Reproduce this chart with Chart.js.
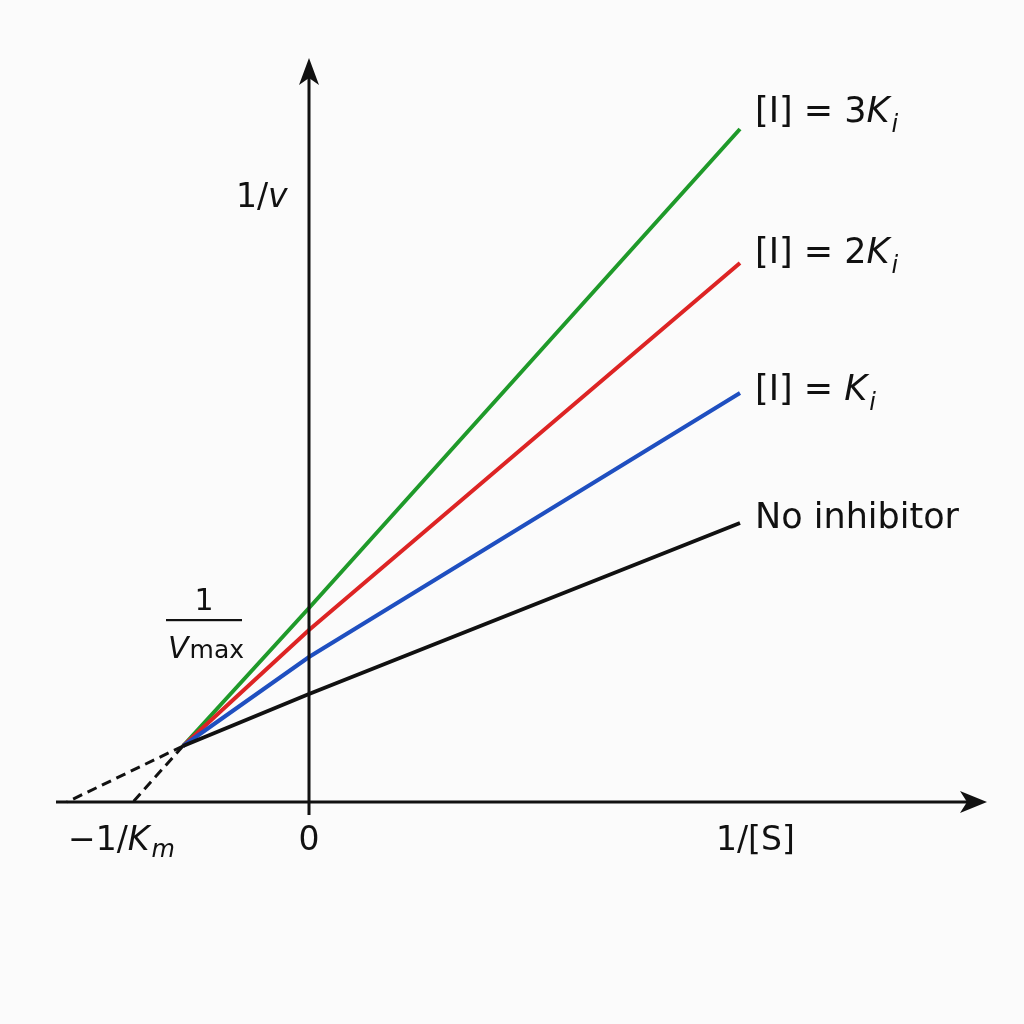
<!DOCTYPE html>
<html><head><meta charset="utf-8">
<script src="https://cdn.jsdelivr.net/npm/chart.js@4.4.0/dist/chart.umd.min.js"></script>
<style>html,body{margin:0;padding:0;background:#fbfbfb;} #wrap{width:1024px;height:1024px;position:relative;}</style>
</head><body><div id="wrap"><canvas id="c"></canvas></div>
<script>
// ---- data (units: 1/[S] on x, 1/v on y) ----
const lineX = [-1.26, 0, 4.31];
const noInhibitorY = [0.56, 1.08, 2.79];
const oneKiY = [0.56, 1.45, 4.09];
const twoKiY = [0.56, 1.72, 5.39];
const threeKiY = [0.56, 1.94, 6.73];
const seriesNames = ['No inhibitor', '[I] = Ki', '[I] = 2Ki', '[I] = 3Ki'];
const seriesColors = ['#111111', '#1f4fc0', '#dd2424', '#1f9a2a'];
const dashedFromX = -1.26, dashedFromY = 0.56;
const dashedToX = [-2.42, -1.76];
const xAxisExtent = [-2.53, 6.72];
const yAxisExtent = [-0.13, 7.38];
const xArrowTip = 6.78, yArrowTip = 7.44;
const xTickLabels = ['\u22121/Km', '0', '1/[S]'];
const xTickValues = [-2.42, 0, 4.07];

const FONT = '"DejaVu Sans", sans-serif';
const ys = [noInhibitorY, oneKiY, twoKiY, threeKiY];
const pts = (xs, yv) => xs.map((x, i) => ({x, y: yv[i]}));

const datasets = [];
// axes
datasets.push({data: pts(xAxisExtent, [0, 0]), borderColor: '#111', borderWidth: 3});
datasets.push({data: pts([0, 0], yAxisExtent), borderColor: '#111', borderWidth: 3});
// dashed extrapolations
dashedToX.forEach(tx => datasets.push({data: pts([dashedFromX, tx], [dashedFromY, 0]), borderColor: '#111', borderWidth: 3, borderDash: [10, 6]}));
// series lines
ys.forEach((yv, i) => datasets.push({label: seriesNames[i], data: pts(lineX, yv), borderColor: seriesColors[i], borderWidth: 4}));

function rich(ctx, segs, x, y, align) {
  let w = 0;
  segs.forEach(s => { ctx.font = s.f; w += ctx.measureText(s.t).width + (s.gap || 0); });
  let cx = align === 'center' ? x - w / 2 : x;
  segs.forEach(s => {
    ctx.font = s.f;
    ctx.fillText(s.t, cx, y + (s.dy || 0));
    cx += ctx.measureText(s.t).width + (s.gap || 0);
  });
}
const N = sz => sz + 'px ' + FONT;
const I = sz => 'italic ' + sz + 'px ' + FONT;

const labelSegs = [
  [{t: 'No inhibitor', f: N(35)}],
  [{t: '[I] = ', f: N(35)}, {t: 'K', f: I(35), gap: 2}, {t: 'i', f: I(24), dy: 10}],
  [{t: '[I] = 2', f: N(35)}, {t: 'K', f: I(35), gap: 2}, {t: 'i', f: I(24), dy: 10}],
  [{t: '[I] = 3', f: N(35)}, {t: 'K', f: I(35), gap: 2}, {t: 'i', f: I(24), dy: 10}]
];
const labelDy = [5, 7, 0, -7];

const annot = {
  id: 'annot',
  afterDatasetsDraw(chart) {
    const ctx = chart.ctx, xs = chart.scales.x, yS = chart.scales.y;
    ctx.save();
    ctx.fillStyle = '#111';
    ctx.textBaseline = 'alphabetic';
    // arrowheads
    const ax = xs.getPixelForValue(xArrowTip), ay = yS.getPixelForValue(0);
    ctx.beginPath();
    ctx.moveTo(ax, ay); ctx.lineTo(ax - 27, ay - 11); ctx.lineTo(ax - 20, ay); ctx.lineTo(ax - 27, ay + 11); ctx.closePath(); ctx.fill();
    const bx = xs.getPixelForValue(0), by = yS.getPixelForValue(yArrowTip);
    ctx.beginPath();
    ctx.moveTo(bx, by); ctx.lineTo(bx - 10, by + 27); ctx.lineTo(bx, by + 20); ctx.lineTo(bx + 10, by + 27); ctx.closePath(); ctx.fill();
    // series labels
    ys.forEach((yv, i) => {
      const last = yv.length - 1;
      const px = xs.getPixelForValue(lineX[last]) + 15;
      const py = yS.getPixelForValue(yv[last]) + labelDy[i];
      rich(ctx, labelSegs[i], px, py, 'left');
    });
    // x tick labels
    const base = yS.getPixelForValue(0) + 48;
    rich(ctx, [{t: '\u22121/', f: N(33)}, {t: 'K', f: I(33), gap: 2}, {t: 'm', f: I(24), dy: 7}], xs.getPixelForValue(xTickValues[0]) + 1, base, 'left');
    rich(ctx, [{t: xTickLabels[1], f: N(33)}], xs.getPixelForValue(xTickValues[1]), base, 'center');
    rich(ctx, [{t: xTickLabels[2], f: N(33)}], xs.getPixelForValue(xTickValues[2]), base, 'left');
    // y axis label
    rich(ctx, [{t: '1/', f: N(33)}, {t: 'v', f: I(33)}], bx - 73, yS.getPixelForValue(5.95), 'left');
    // 1/Vmax fraction
    const fx = xs.getPixelForValue(-1.05), fy = yS.getPixelForValue(1.82);
    rich(ctx, [{t: '1', f: N(30)}], fx, fy - 10, 'center');
    ctx.fillRect(fx - 38, fy - 1, 76, 2.2);
    rich(ctx, [{t: 'V', f: I(30), gap: 1}, {t: 'max', f: N(25)}], fx - 36, fy + 38, 'left');
    ctx.restore();
  }
};

new Chart(document.getElementById('c'), {
  type: 'scatter',
  data: {datasets: datasets.map(d => Object.assign({showLine: true, pointRadius: 0, pointHoverRadius: 0, clip: false, fill: false, tension: 0}, d))},
  options: {
    responsive: true, maintainAspectRatio: false, animation: false,
    layout: {padding: {left: 49, right: 25, top: 42, bottom: 182}},
    plugins: {legend: {display: false}, tooltip: {enabled: false}},
    scales: {
      x: {type: 'linear', min: -2.6, max: 6.9, display: false},
      y: {type: 'linear', min: -0.4, max: 7.6, display: false}
    }
  },
  plugins: [annot]
});
</script></body></html>
